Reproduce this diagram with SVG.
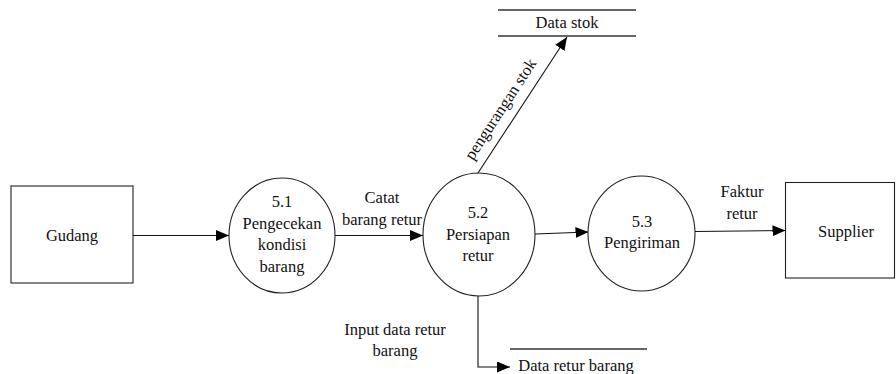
<svg xmlns="http://www.w3.org/2000/svg" width="896" height="374" viewBox="0 0 896 374">
  <style>
    .box { fill: #ffffff; stroke: #222222; stroke-width: 1.1; }
    .proc { fill: #ffffff; stroke: #222222; stroke-width: 1.1; }
    .store { stroke: #333333; stroke-width: 1.4; fill: none; }
    .flow { fill: none; stroke: #111111; stroke-width: 1.1; marker-end: url(#arrow); }
    .lbl { font-family: "Times New Roman", Times, "Liberation Serif", Tinos, "Nimbus Roman", "Nimbus Roman No9 L", FreeSerif, "Noto Serif", "DejaVu Serif", Georgia, serif; font-size: 16.5px; fill: #111111; text-anchor: middle; }
  </style>
  <defs>
    <marker id="arrow" markerUnits="userSpaceOnUse" markerWidth="14" markerHeight="12" refX="13" refY="5.5" orient="auto">
      <path d="M0,0 L13,5.5 L0,11 Z" fill="#000000"/>
    </marker>
  </defs>

  <rect width="896" height="374" fill="#ffffff"/>

  <!-- connectors and their labels -->
  <g id="connectors">
    <line class="flow" x1="133" y1="235.5" x2="229" y2="235.5"/>
    <line class="flow" x1="335" y1="235.5" x2="423" y2="235.5"/>
    <line class="flow" x1="535" y1="234" x2="588.5" y2="232"/>
    <line class="flow" x1="695" y1="231.5" x2="785.5" y2="230.5"/>
    <line class="flow" x1="478" y1="173" x2="567" y2="37"/>
    <polyline class="flow" points="478,296 478,367 510,367"/>
    <text class="lbl" x="382" y="203">Catat</text>
    <text class="lbl" x="382" y="225">barang retur</text>
    <text class="lbl" x="742" y="197">Faktur</text>
    <text class="lbl" x="742" y="219">retur</text>
    <text class="lbl" x="395" y="335">Input data retur</text>
    <text class="lbl" x="395" y="356">barang</text>
    <text class="lbl" transform="translate(505,112) rotate(-56.8)">pengurangan stok</text>
  </g>

  <!-- external entity: Gudang -->
  <g id="gudang">
    <rect class="box" x="11" y="186" width="122" height="97"/>
    <text class="lbl" x="72" y="241">Gudang</text>
  </g>

  <!-- process 5.1 -->
  <g id="p51">
    <ellipse class="proc" cx="282" cy="235.5" rx="53" ry="57.5"/>
    <text class="lbl" x="282" y="207">5.1</text>
    <text class="lbl" x="282" y="228.5">Pengecekan</text>
    <text class="lbl" x="282" y="250">kondisi</text>
    <text class="lbl" x="282" y="271.5">barang</text>
  </g>

  <!-- process 5.2 -->
  <g id="p52">
    <ellipse class="proc" cx="479" cy="234.5" rx="56" ry="61.5"/>
    <text class="lbl" x="478" y="218">5.2</text>
    <text class="lbl" x="478" y="240">Persiapan</text>
    <text class="lbl" x="478" y="261">retur</text>
  </g>

  <!-- process 5.3 -->
  <g id="p53">
    <ellipse class="proc" cx="641.5" cy="233.5" rx="53.5" ry="57.5"/>
    <text class="lbl" x="642" y="227">5.3</text>
    <text class="lbl" x="642" y="248">Pengiriman</text>
  </g>

  <!-- external entity: Supplier -->
  <g id="supplier">
    <rect class="box" x="785.5" y="182.5" width="109" height="95.5"/>
    <text class="lbl" x="846" y="237">Supplier</text>
  </g>

  <!-- data store: Data stok -->
  <g id="data-stok">
    <line class="store" x1="498" y1="10" x2="636" y2="10"/>
    <line class="store" x1="498" y1="36" x2="636" y2="36"/>
    <text class="lbl" x="567" y="28">Data stok</text>
  </g>

  <!-- data store: Data retur barang -->
  <g id="data-retur-barang">
    <line class="store" x1="510" y1="349" x2="647" y2="349"/>
    <text class="lbl" x="576" y="371">Data retur barang</text>
  </g>
</svg>
